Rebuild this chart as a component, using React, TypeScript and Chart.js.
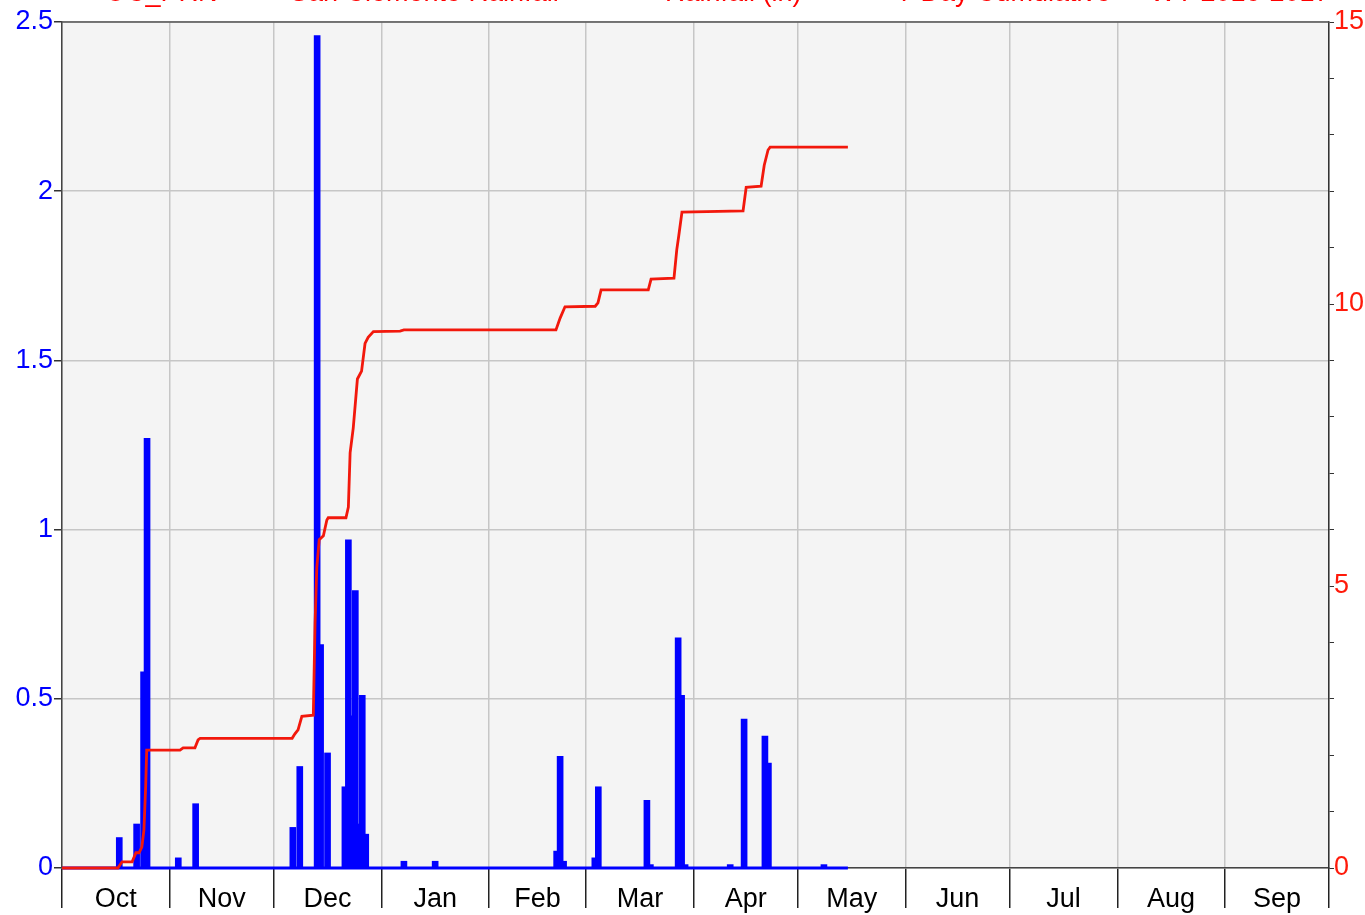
import React, { useEffect, useRef } from 'react';
import { Chart, registerables } from 'chart.js';

Chart.register(...registerables);

// ---- data ----
const monthLabels = ['Oct', 'Nov', 'Dec', 'Jan', 'Feb', 'Mar', 'Apr', 'May', 'Jun', 'Jul', 'Aug', 'Sep'];
const monthLengths = [31, 30, 31, 31, 28, 31, 30, 31, 30, 31, 31, 30];

// daily rainfall (day index from Oct 1), inches
const rainDays = [16, 21, 23, 24, 33, 38, 66, 68, 73, 74, 76, 81, 82, 83, 84, 85, 86, 87, 98, 107, 142, 143, 144, 153, 154, 168, 169, 177, 178, 179, 192, 196, 202, 203, 219];
const rainValues = [0.09, 0.13, 0.58, 1.27, 0.03, 0.19, 0.12, 0.30, 2.46, 0.66, 0.34, 0.24, 0.97, 0.45, 0.82, 0.13, 0.51, 0.10, 0.02, 0.02, 0.05, 0.33, 0.02, 0.03, 0.24, 0.20, 0.01, 0.68, 0.51, 0.01, 0.01, 0.44, 0.39, 0.31, 0.01];

// period of record for the daily series (zero baseline)
const recordDays = [0, 226.4];

// cumulative rainfall, inches (right axis)
const cumDays = [0, 16.1, 17.3, 20.2, 21.3, 22.2, 23.0, 23.6, 24.1, 24.4, 34.0, 34.9, 38.3, 39.2, 39.8, 66.3, 67.1, 68.0, 69.1, 72.4, 72.9, 73.4, 74.1, 75.3, 76.3, 76.7, 81.8, 82.5, 83.0, 83.9, 85.1, 86.3, 87.3, 88.2, 89.7, 97.4, 98.5, 142.3, 143.5, 144.9, 153.6, 154.4, 155.3, 168.9, 169.7, 176.3, 177.1, 177.7, 178.6, 196.2, 197.1, 201.4, 202.3, 203.4, 204.0, 226.4];
const cumValues = [0, 0, 0.11, 0.11, 0.27, 0.27, 0.37, 0.67, 1.44, 2.09, 2.09, 2.13, 2.13, 2.27, 2.30, 2.30, 2.38, 2.45, 2.69, 2.71, 4.34, 5.32, 5.82, 5.89, 6.17, 6.21, 6.21, 6.40, 7.36, 7.80, 8.67, 8.81, 9.30, 9.41, 9.51, 9.52, 9.54, 9.54, 9.75, 9.95, 9.96, 10.02, 10.25, 10.25, 10.44, 10.46, 10.96, 11.22, 11.63, 11.65, 12.07, 12.09, 12.46, 12.73, 12.78, 12.78];

const leftTicks = { min: 0, max: 2.5, step: 0.5 };
const rightTicks = { min: 0, max: 15, step: 1, labelEvery: 5 };

const legendLabels = ['OC_PRN', 'San Clemente Rainfall', 'Rainfall (in)', '7 Day Cumulative', 'WY 2016-2017'];
const legendLeft = [105, 290, 665, 898, 1150];

// ---- derived tick structure ----
const monthStarts: number[] = [];
{
  let acc = 0;
  for (const len of monthLengths) {
    monthStarts.push(acc);
    acc += len;
  }
  monthStarts.push(acc);
}
const yearLength = monthStarts[monthStarts.length - 1];
const boundarySet = new Set(monthStarts);
const labelMap = new Map<number, string>();
monthLabels.forEach((m, i) => labelMap.set((monthStarts[i] + monthStarts[i + 1]) / 2, m));
const xTickValues = [...monthStarts, ...Array.from(labelMap.keys())].sort((a, b) => a - b);

const FONT = 'Liberation Sans, Arial, sans-serif';

const bgPlugin = {
  id: 'plotBg',
  beforeDraw(chart: any) {
    const { ctx, chartArea: a } = chart;
    ctx.save();
    ctx.fillStyle = '#f4f4f4';
    ctx.fillRect(a.left, a.top, a.right - a.left, a.bottom - a.top);
    ctx.restore();
  },
  afterDraw(chart: any) {
    const { ctx, chartArea: a } = chart;
    ctx.save();
    ctx.strokeStyle = '#555';
    ctx.lineWidth = 1.5;
    ctx.beginPath();
    ctx.moveTo(a.left, a.top);
    ctx.lineTo(a.right, a.top);
    ctx.stroke();
    ctx.restore();
  },
};

export default function App() {
  const ref = useRef<HTMLCanvasElement>(null);

  useEffect(() => {
    const canvas = ref.current;
    if (!canvas) return;
    const chart = new Chart(canvas, {
      type: 'bar',
      data: {
        datasets: [
          {
            type: 'line',
            label: 'Cumulative',
            data: cumDays.map((d, i) => ({ x: d, y: cumValues[i] })),
            yAxisID: 'y2',
            xAxisID: 'x',
            borderColor: '#f2180c',
            borderWidth: 2.8,
            pointRadius: 0,
            tension: 0,
            fill: false,
            clip: false,
            order: 0,
          } as any,
          {
            type: 'line',
            label: 'baseline',
            data: recordDays.map((d) => ({ x: d, y: 0 })),
            yAxisID: 'y',
            xAxisID: 'x',
            borderColor: '#0000ff',
            borderWidth: 3,
            pointRadius: 0,
            fill: false,
            clip: false,
            order: 1,
          } as any,
          {
            type: 'bar',
            label: 'Rainfall (in)',
            data: rainDays.map((d, i) => ({ x: d + 0.5, y: rainValues[i] })),
            yAxisID: 'y',
            xAxisID: 'x',
            backgroundColor: '#0000ff',
            borderWidth: 0,
            barThickness: 6,
            order: 2,
          } as any,
        ],
      },
      options: {
        responsive: false,
        animation: false,
        devicePixelRatio: 1,
        layout: { padding: { top: 22, left: 0, right: 0, bottom: 0 } },
        plugins: {
          legend: { display: false },
          tooltip: { enabled: false },
          title: { display: false },
        },
        scales: {
          x: {
            type: 'linear',
            position: 'bottom',
            min: 0,
            max: yearLength,
            offset: false,
            afterFit: (s: any) => {
              s.height = 47;
            },
            afterBuildTicks: (s: any) => {
              s.ticks = xTickValues.map((v) => ({ value: v }));
            },
            ticks: {
              autoSkip: false,
              maxRotation: 0,
              minRotation: 0,
              padding: -25,
              color: '#000',
              font: { family: FONT, size: 27 },
              callback: (v: any) => labelMap.get(Number(v)) ?? '',
            },
            grid: {
              offset: false,
              color: (ctx: any) => (ctx.tick && boundarySet.has(ctx.tick.value) ? '#c6c6c6' : 'rgba(0,0,0,0)'),
              tickColor: (ctx: any) => (ctx.tick && boundarySet.has(ctx.tick.value) ? '#222' : 'rgba(0,0,0,0)'),
              tickLength: 40,
              lineWidth: 1.5,
            },
            border: { color: '#444', width: 1.5 },
          },
          y: {
            type: 'linear',
            position: 'left',
            min: leftTicks.min,
            max: leftTicks.max,
            afterFit: (s: any) => {
              s.width = 62;
            },
            ticks: {
              stepSize: leftTicks.step,
              autoSkip: false,
              padding: 1,
              color: '#0000ff',
              font: { family: FONT, size: 27 },
              callback: (v: any) => String(Number(v)),
            },
            grid: {
              color: '#c6c6c6',
              lineWidth: 1.5,
              tickColor: '#333',
              tickLength: 8,
            },
            border: { color: '#444', width: 1.5 },
          },
          y2: {
            type: 'linear',
            position: 'right',
            min: rightTicks.min,
            max: rightTicks.max,
            afterFit: (s: any) => {
              s.width = 36;
            },
            ticks: {
              stepSize: rightTicks.step,
              autoSkip: false,
              padding: 0,
              color: '#ff1a0a',
              font: { family: FONT, size: 27 },
              callback: (v: any) => (Number(v) % rightTicks.labelEvery === 0 ? String(v) : ''),
            },
            grid: {
              drawOnChartArea: false,
              tickColor: '#333',
              tickLength: 5,
            },
            border: { color: '#333', width: 1.5 },
          },
        },
      } as any,
      plugins: [bgPlugin],
    });
    return () => chart.destroy();
  }, []);

  return (
    <div style={{ position: 'fixed', left: 0, top: 0, width: 1365, height: 915, background: '#fff', overflow: 'hidden' }}>
      <canvas ref={ref} width={1365} height={915} style={{ position: 'absolute', left: 0, top: 0 }} />
      {legendLabels.map((t, i) => (
        <span
          key={t}
          style={{
            position: 'absolute',
            left: legendLeft[i],
            top: -21,
            fontFamily: FONT,
            fontSize: 27,
            lineHeight: '27px',
            color: '#ff0000',
            whiteSpace: 'nowrap',
          }}
        >
          {t}
        </span>
      ))}
    </div>
  );
}
